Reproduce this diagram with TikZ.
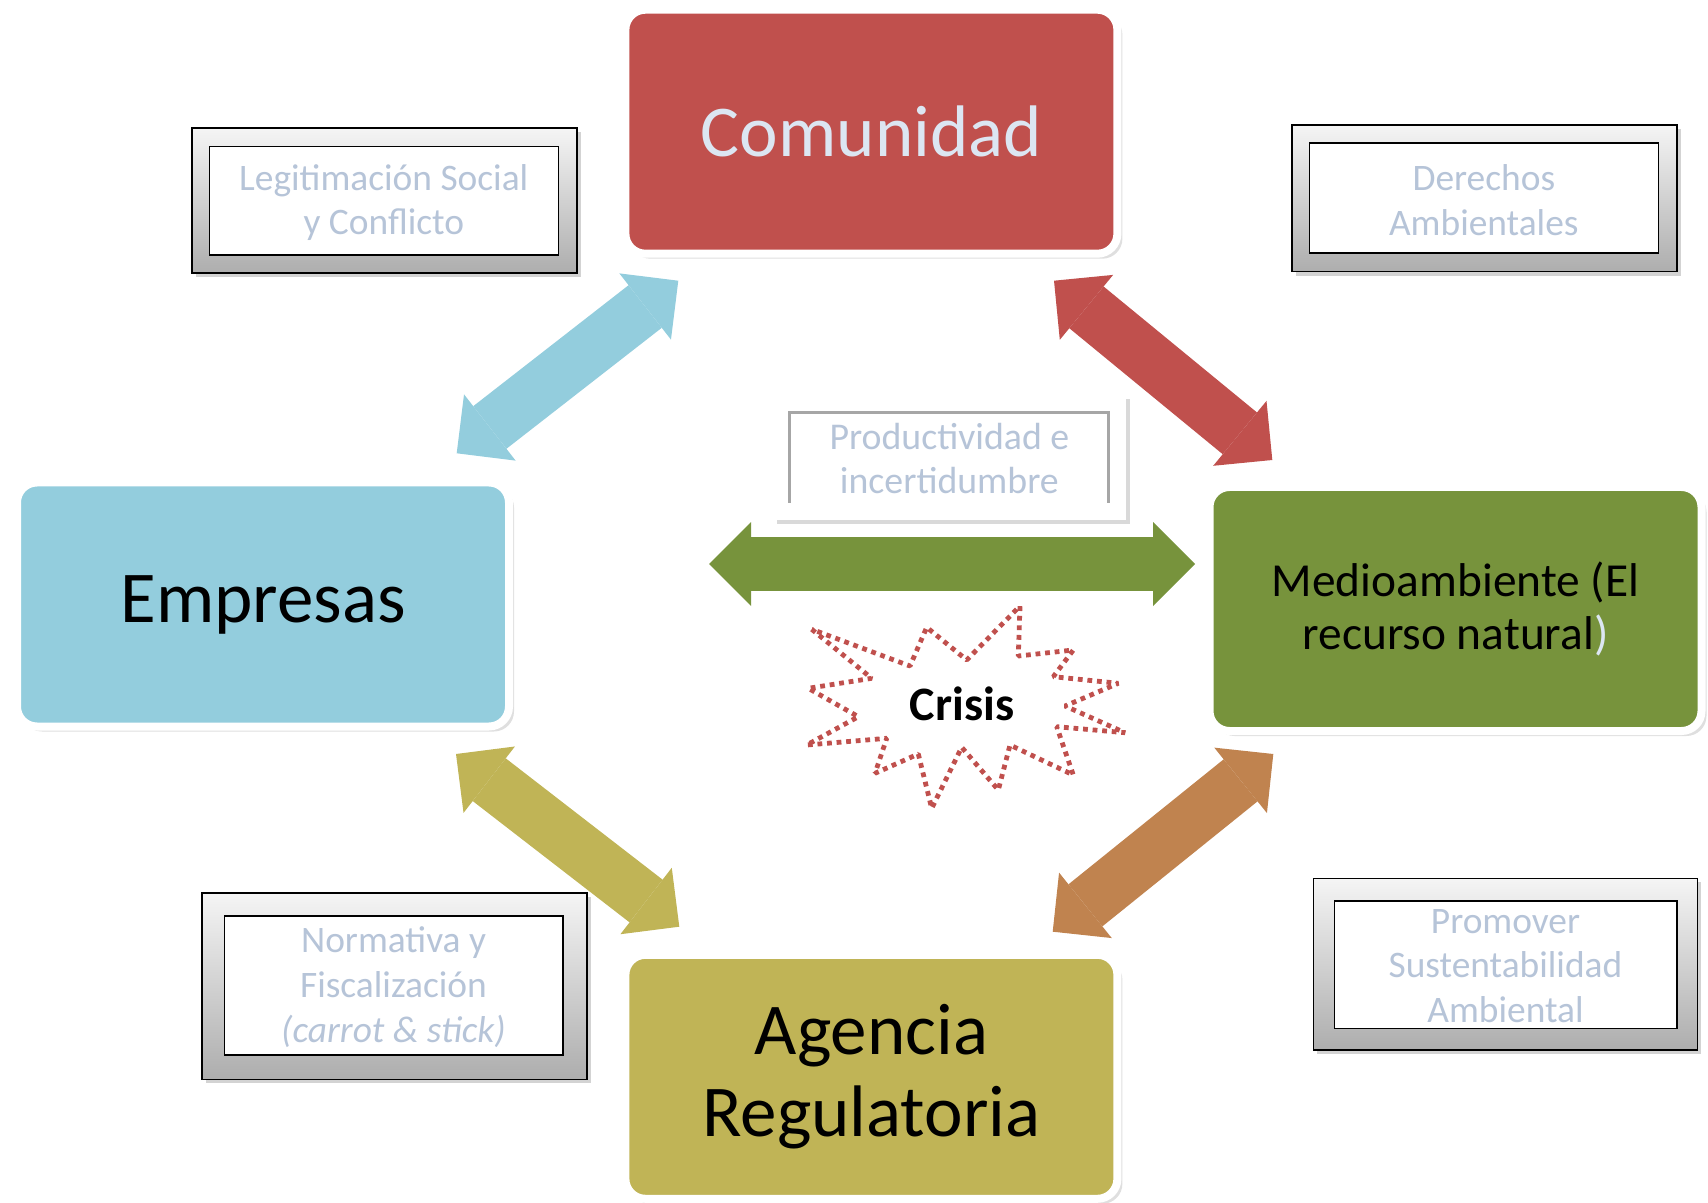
\documentclass[tikz,border=0pt]{standalone}
\usepackage{fontspec}
\setmainfont{Carlito}
\usepackage{tikz}
\usetikzlibrary{arrows.meta, shadows, positioning}
\definecolor{comred}{HTML}{C0504D}
\definecolor{empblue}{HTML}{93CDDD}
\definecolor{medgreen}{HTML}{77933C}
\definecolor{regolive}{HTML}{C0B456}
\definecolor{arrorange}{HTML}{C0834F}
\definecolor{paletext}{HTML}{B6C4D8}
\definecolor{comtext}{HTML}{DCE6F2}
\tikzset{
  actor/.style={rounded corners=10pt, draw=white, line width=4pt, align=center, inner sep=0pt,
    minimum width=246pt, minimum height=122pt,
    drop shadow={shadow xshift=2.5pt, shadow yshift=-2.5pt, opacity=0.25}},
  outerbox/.style={draw=black, line width=0.8pt, top color=black!4, bottom color=black!32, inner sep=0pt,
    drop shadow={shadow xshift=2pt, shadow yshift=-2pt, opacity=0.35}},
  innerbox/.style={draw=black, line width=0.8pt, fill=white, inner sep=0pt},
  tag/.style={text=paletext, align=center, inner sep=0pt, font=\fontsize{18.7}{22.4}\selectfont},
  link/.style={line width=27pt,
    {Triangle[length=21pt, width=42pt, line width=0pt]}-{Triangle[length=21pt, width=42pt, line width=0pt]}},
  crisisline/.style={draw=comred, line width=2.4pt, line join=bevel, dash pattern=on 2.4pt off 2.4pt},
}

\begin{document}
\begin{tikzpicture}[x=0.5pt, y=-0.5pt]
    \useasboundingbox (0,0) rectangle (1708,1203);

    % the four actors
    \node[actor, fill=comred, text=comtext, font=\fontsize{36.5}{40}\selectfont]
        (comunidad) at (871.4,131.7) {Comunidad};
    \node[actor, fill=empblue, font=\fontsize{36.5}{40}\selectfont]
        (empresas) at (263,604.5) {Empresas};
    \node[actor, fill=medgreen, font=\fontsize{23.7}{26.7}\selectfont]
        (medio) at (1455.5,609) {Medioambiente (El\\recurso natural\textcolor{comtext}{)}};
    \node[actor, fill=regolive, font=\fontsize{36.5}{41}\selectfont]
        (agencia) at (871.4,1076.8) {Agencia\\Regulatoria};

    % labels
    \node[outerbox, minimum width=192.5pt, minimum height=72.5pt] (legitOut) at (384.2,200.8) {};
    \node[innerbox, minimum width=174.5pt, minimum height=54.2pt] (legitIn) at (383.8,200.8) {};
    \node[tag] (legit) at (383.8,202.6) {Legitimación Social\\y Conflicto};

    \node[outerbox, minimum width=192.5pt, minimum height=73.3pt] (derechosOut) at (1484.2,198.3) {};
    \node[innerbox, minimum width=174.5pt, minimum height=55pt] (derechosIn) at (1483.8,198.3) {};
    \node[tag] (derechos) at (1483.8,200) {Derechos\\Ambientales};

    \node[outerbox, minimum width=192.5pt, minimum height=93.3pt] (normaOut) at (394.2,986) {};
    \node[innerbox, minimum width=169.2pt, minimum height=69.5pt] (normaIn) at (393.5,985.5) {};
    \node[tag] (norma) at (393.5,987) {Normativa y\\Fiscalización\\\textit{(carrot \& stick)}};

    \node[outerbox, minimum width=192pt, minimum height=85.8pt] (promoverOut) at (1505.3,964.2) {};
    \node[innerbox, minimum width=171.2pt, minimum height=63.8pt] (promoverIn) at (1505.5,964.5) {};
    \node[tag] (promover) at (1505.5,966) {Promover\\Sustentabilidad\\Ambiental};

    \node[fill=white, inner sep=0pt, minimum width=176.7pt, minimum height=62.5pt,
        drop shadow={shadow xshift=2pt, shadow yshift=-2pt, opacity=0.3}] (prodOut) at (949.4,457.5) {};
    \draw[black!35, line width=1.2pt] (789.3,502.7) |- (1108.3,412.7) -- (1108.3,502.7);
    \node[tag, font=\fontsize{18.9}{21.8}\selectfont] (prod) at (949.4,458.6) {Productividad e\\incertidumbre};

    % arrows
    \coordinate (empA) at (456.7,453.3);
    \coordinate (comA) at (678.3,280.7);
    \coordinate (comB) at (1054,280.7);
    \coordinate (medB) at (1272.3,460);
    \coordinate (empC) at (709,564);
    \coordinate (medC) at (1195,564);
    \coordinate (empD) at (456,754);
    \coordinate (ageD) at (679.3,926.7);
    \coordinate (medE) at (1273.3,754);
    \coordinate (ageE) at (1052.7,931.7);
    \draw[link, empblue] (empA) -- (comA);
    \draw[link, comred] (comB) -- (medB);
    \draw[link, medgreen] (empC) -- (medC);
    \draw[link, regolive] (empD) -- (ageD);
    \draw[link, arrorange] (medE) -- (ageE);

    % crisis
    \draw[crisisline] (811.7,629.3) -- (871.7,678.3) -- (808.3,688.3) -- (858.3,716.7)
        -- (806.7,745) -- (886.7,738.3) -- (875,773.3) -- (918.3,754) -- (931.7,808.3)
        -- (961.7,747.3) -- (998.3,790) -- (1010,745) -- (1073.3,775) -- (1056.7,726.7)
        -- (1125,732.7) -- (1065,706) -- (1118.3,683.3) -- (1053.3,676.7) -- (1073.3,650)
        -- (1018.3,656) -- (1020,606) -- (966.7,660) -- (926.7,627.3) -- (910,666) -- cycle;
    \node[font=\bfseries\fontsize{24}{28}\selectfont] (crisis) at (962,704) {Crisis};
\end{tikzpicture}
\end{document}
